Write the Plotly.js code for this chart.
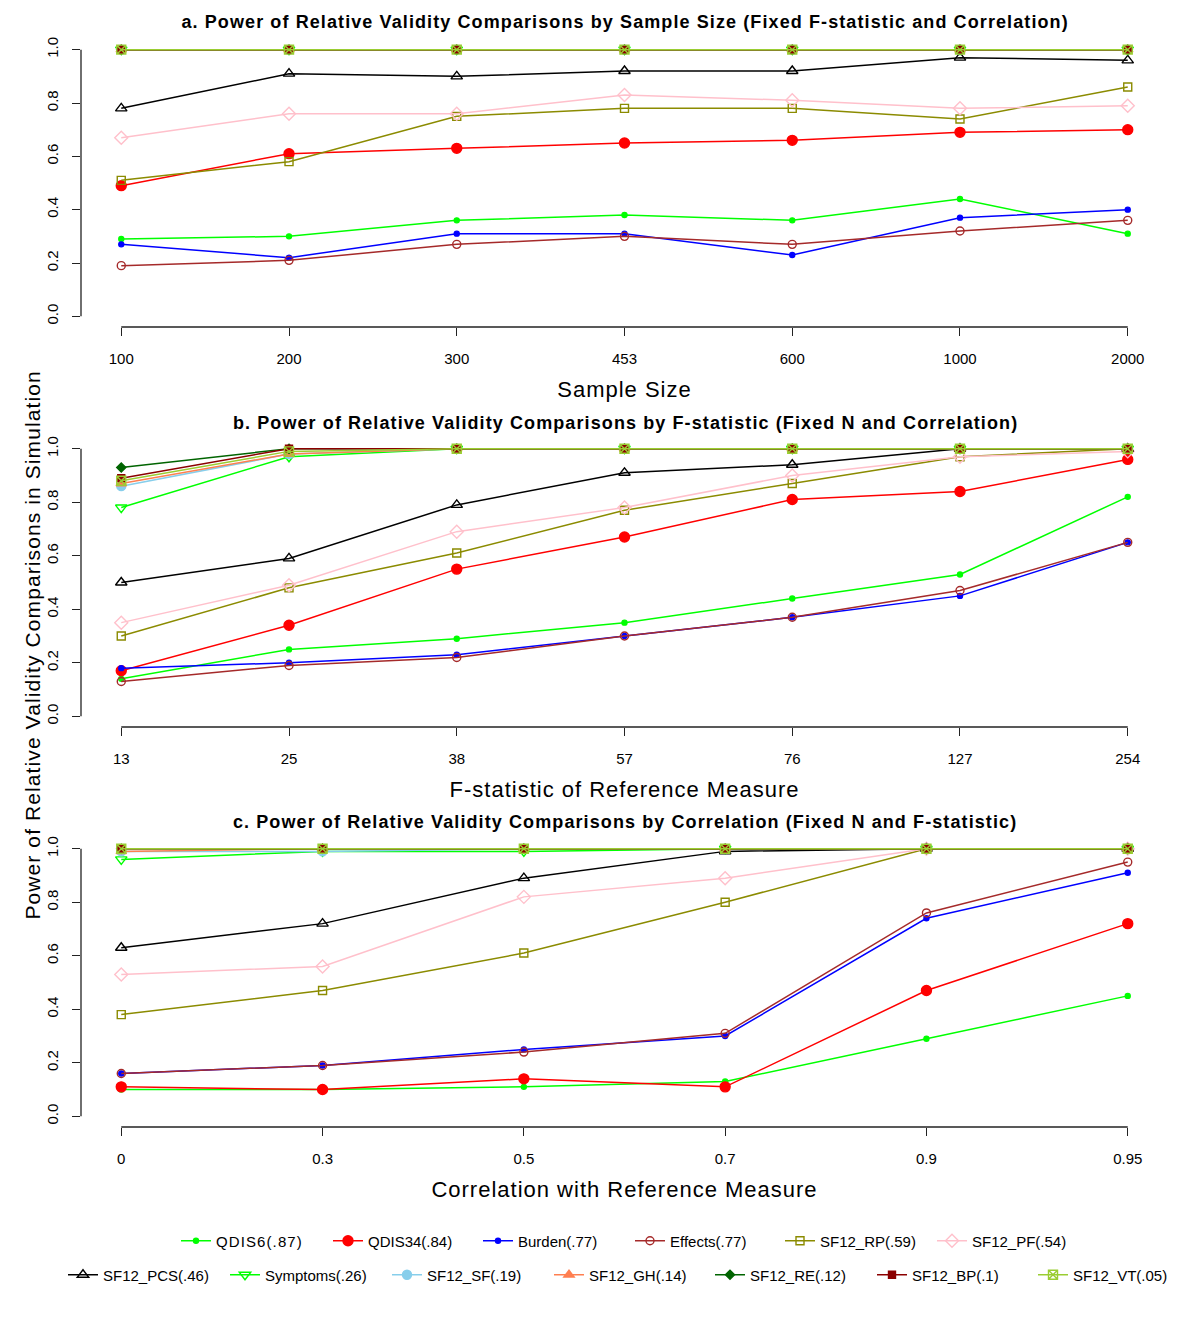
<!DOCTYPE html>
<html>
<head>
<meta charset="utf-8">
<title>Power of Relative Validity Comparisons</title>
<script src="https://cdn.plot.ly/plotly-3.0.1.min.js"></script>
<style>
    html, body { margin: 0; padding: 0; background: #ffffff; }
    #chart { width: 1200px; height: 1326px; }
    /* the original (R output) sets its text with looser letter spacing */
    #chart text.legendtext { letter-spacing: 1.1px; }
    #chart text.xtitle, #chart text.x2title, #chart text.x3title { letter-spacing: 1px; }
    #chart text.annotation-text { letter-spacing: 1.1px; }
    /* wider legend text would otherwise get cut by the legend clip box */
    #chart g.scrollbox { clip-path: none !important; }
</style>
</head>
<body>
<div id="chart"></div>
<script>
// Categories on each panel's x axis
const sampleSizes = ['100', '200', '300', '453', '600', '1000', '2000'];
const fStats = ['13', '25', '38', '57', '76', '127', '254'];
const correlations = ['0', '0.3', '0.5', '0.7', '0.9', '0.95'];

// Measure names as shown in the legend
const measures = ['QDIS6(.87)', 'QDIS34(.84)', 'Burden(.77)', 'Effects(.77)', 'SF12_RP(.59)', 'SF12_PF(.54)',
    'SF12_PCS(.46)', 'Symptoms(.26)', 'SF12_SF(.19)', 'SF12_GH(.14)', 'SF12_RE(.12)', 'SF12_BP(.1)', 'SF12_VT(.05)'];

// a. power by sample size
const sizeQDIS6 = [0.29, 0.30, 0.36, 0.38, 0.36, 0.44, 0.31];
const sizeQDIS34 = [0.49, 0.61, 0.63, 0.65, 0.66, 0.69, 0.70];
const sizeBurden = [0.27, 0.22, 0.31, 0.31, 0.23, 0.37, 0.40];
const sizeEffects = [0.19, 0.21, 0.27, 0.30, 0.27, 0.32, 0.36];
const sizeRP = [0.51, 0.58, 0.75, 0.78, 0.78, 0.74, 0.86];
const sizePF = [0.67, 0.76, 0.76, 0.83, 0.81, 0.78, 0.79];
const sizePCS = [0.78, 0.91, 0.90, 0.92, 0.92, 0.97, 0.96];
const sizeSymptoms = [1, 1, 1, 1, 1, 1, 1];
const sizeSF = [1, 1, 1, 1, 1, 1, 1];
const sizeGH = [1, 1, 1, 1, 1, 1, 1];
const sizeRE = [1, 1, 1, 1, 1, 1, 1];
const sizeBP = [1, 1, 1, 1, 1, 1, 1];
const sizeVT = [1, 1, 1, 1, 1, 1, 1];

// b. power by F-statistic
const fQDIS6 = [0.14, 0.25, 0.29, 0.35, 0.44, 0.53, 0.82];
const fQDIS34 = [0.17, 0.34, 0.55, 0.67, 0.81, 0.84, 0.96];
const fBurden = [0.18, 0.20, 0.23, 0.30, 0.37, 0.45, 0.65];
const fEffects = [0.13, 0.19, 0.22, 0.30, 0.37, 0.47, 0.65];
const fRP = [0.30, 0.48, 0.61, 0.77, 0.87, 0.97, 1.00];
const fPF = [0.35, 0.49, 0.69, 0.78, 0.90, 0.97, 0.99];
const fPCS = [0.50, 0.59, 0.79, 0.91, 0.94, 1.00, 1.00];
const fSymptoms = [0.78, 0.97, 1, 1, 1, 1, 1];
const fSF = [0.86, 0.98, 1, 1, 1, 1, 1];
const fGH = [0.87, 0.98, 1, 1, 1, 1, 1];
const fRE = [0.93, 1, 1, 1, 1, 1, 1];
const fBP = [0.89, 1, 1, 1, 1, 1, 1];
const fVT = [0.88, 0.99, 1, 1, 1, 1, 1];

// c. power by correlation
const corrQDIS6 = [0.10, 0.10, 0.11, 0.13, 0.29, 0.45];
const corrQDIS34 = [0.11, 0.10, 0.14, 0.11, 0.47, 0.72];
const corrBurden = [0.16, 0.19, 0.25, 0.30, 0.74, 0.91];
const corrEffects = [0.16, 0.19, 0.24, 0.31, 0.76, 0.95];
const corrRP = [0.38, 0.47, 0.61, 0.80, 1, 1];
const corrPF = [0.53, 0.56, 0.82, 0.89, 1, 1];
const corrPCS = [0.63, 0.72, 0.89, 0.99, 1, 1];
const corrSymptoms = [0.96, 0.99, 0.99, 1, 1, 1];
const corrSF = [0.99, 0.99, 1, 1, 1, 1];
const corrGH = [0.99, 1, 1, 1, 1, 1];
const corrRE = [1, 1, 1, 1, 1, 1];
const corrBP = [1, 1, 1, 1, 1, 1];
const corrVT = [1, 1, 1, 1, 1, 1];

// line colour + R-ish plotting symbol per measure
const styles = [
    { color: '#00ff00', symbol: 'circle', size: 5 },
    { color: '#ff0000', symbol: 'circle', size: 10 },
    { color: '#0000ff', symbol: 'circle', size: 5 },
    { color: '#a52a2a', symbol: 'circle-open', size: 8 },
    { color: '#8b8b00', symbol: 'square-open', size: 8 },
    { color: '#ffc0cb', symbol: 'diamond-open', size: 10 },
    { color: '#000000', symbol: 'triangle-up-open', size: 10 },
    { color: '#00ff00', symbol: 'triangle-down-open', size: 10 },
    { color: '#87ceeb', symbol: 'circle', size: 9 },
    { color: '#ff7f50', symbol: 'triangle-up', size: 9 },
    { color: '#006400', symbol: 'diamond', size: 7 },
    { color: '#8b0000', symbol: 'square', size: 7 },
    { color: '#9acd32', symbol: 'square-x-open', size: 9 }
];

const panels = [
    {
        cats: sampleSizes,
        series: [sizeQDIS6, sizeQDIS34, sizeBurden, sizeEffects, sizeRP, sizePF, sizePCS,
            sizeSymptoms, sizeSF, sizeGH, sizeRE, sizeBP, sizeVT],
        title: 'a. Power of Relative Validity Comparisons by Sample Size (Fixed F-statistic and Correlation)',
        xtitle: 'Sample Size'
    },
    {
        cats: fStats,
        series: [fQDIS6, fQDIS34, fBurden, fEffects, fRP, fPF, fPCS,
            fSymptoms, fSF, fGH, fRE, fBP, fVT],
        title: 'b. Power of Relative Validity Comparisons by F-statistic (Fixed N and Correlation)',
        xtitle: 'F-statistic of Reference Measure'
    },
    {
        cats: correlations,
        series: [corrQDIS6, corrQDIS34, corrBurden, corrEffects, corrRP, corrPF, corrPCS,
            corrSymptoms, corrSF, corrGH, corrRE, corrBP, corrVT],
        title: 'c. Power of Relative Validity Comparisons by Correlation (Fixed N and F-statistic)',
        xtitle: 'Correlation with Reference Measure'
    }
];

const FONT = '"Liberation Sans", Arial, Helvetica, sans-serif';
const W = 1200, H = 1326;
// pixel boxes of the three plot regions (top, bottom)
const boxes = [[39, 327], [438, 727], [838, 1127]];
const titleRows = [22, 423, 822];
const plotLeft = 81, plotRight = 1168;

// legend layout: where each entry's text starts, and its row
const legendTextLeft = [216, 368, 518, 670, 820, 972, 103, 265, 427, 589, 750, 912, 1073];
const legendRowY = [1241, 1241, 1241, 1241, 1241, 1241, 1275, 1275, 1275, 1275, 1275, 1275, 1275];

const traces = [];
const layout = {
    width: W,
    height: H,
    margin: { l: 0, r: 0, t: 0, b: 0 },
    paper_bgcolor: '#ffffff',
    plot_bgcolor: '#ffffff',
    font: { family: FONT, color: '#000000', size: 15 },
    shapes: [],
    annotations: []
};

// one small legend per entry so the two rows can be spaced like the original
const legendId = j => (j === 0 ? 'legend' : 'legend' + (j + 1));

panels.forEach((p, k) => {
    const sfx = k === 0 ? '' : String(k + 1);
    const xs = p.cats.map((_, i) => i);
    const n = p.cats.length - 1;

    p.series.forEach((vals, j) => {
        const st = styles[j];
        traces.push({
            x: xs,
            y: vals,
            xaxis: 'x' + sfx,
            yaxis: 'y' + sfx,
            type: 'scatter',
            mode: 'lines+markers',
            name: measures[j],
            legendgroup: measures[j],
            legend: legendId(j),
            showlegend: k === 0,
            line: { color: st.color, width: 1.5 },
            marker: { color: st.color, symbol: st.symbol, size: st.size, line: { color: st.color, width: 1.4 } },
            cliponaxis: false
        });
    });

    const [top, bottom] = boxes[k];
    layout['xaxis' + sfx] = {
        domain: [plotLeft / W, plotRight / W],
        anchor: 'y' + sfx,
        range: [-0.04 * n, n * 1.04],
        tickvals: xs,
        ticktext: p.cats,
        ticks: 'outside',
        ticklen: 8,
        tickwidth: 1.3,
        tickcolor: '#222',
        ticklabelstandoff: 10,
        showline: false,
        showgrid: false,
        zeroline: false,
        tickfont: { size: 15 },
        title: { text: p.xtitle, font: { size: 22 }, standoff: 15 }
    };
    layout['yaxis' + sfx] = {
        domain: [1 - bottom / H, 1 - top / H],
        anchor: 'x' + sfx,
        range: [-0.04, 1.04],
        tickvals: [0, 0.2, 0.4, 0.6, 0.8, 1.0],
        tickformat: '.1f',
        tickangle: -90,
        ticks: 'outside',
        ticklen: 8,
        tickwidth: 1.3,
        tickcolor: '#222',
        ticklabelstandoff: 8,
        showline: false,
        showgrid: false,
        zeroline: false,
        tickfont: { size: 15 }
    };

    // R-style axis lines that only span first..last tick
    layout.shapes.push({
        type: 'line', xref: 'x' + sfx, yref: 'y' + sfx + ' domain',
        x0: 0, x1: n, y0: 0, y1: 0,
        line: { color: '#222', width: 1.3 }
    });
    layout.shapes.push({
        type: 'line', xref: 'x' + sfx + ' domain', yref: 'y' + sfx,
        x0: 0, x1: 0, y0: 0, y1: 1,
        line: { color: '#222', width: 1.3 }
    });

    // panel title
    layout.annotations.push({
        text: '<b>' + p.title + '</b>',
        xref: 'paper', yref: 'paper',
        x: 625 / W, y: 1 - titleRows[k] / H,
        xanchor: 'center', yanchor: 'middle',
        showarrow: false,
        font: { size: 18 }
    });
});

// shared y axis title
layout.annotations.push({
    text: 'Power of Relative Validity Comparisons in Simulation',
    xref: 'paper', yref: 'paper',
    x: 32 / W, y: 1 - 645 / H,
    xanchor: 'center', yanchor: 'middle',
    textangle: -90,
    showarrow: false,
    font: { size: 21 }
});

measures.forEach((m, j) => {
    layout[legendId(j)] = {
        orientation: 'h',
        x: (legendTextLeft[j] - 40) / W,
        y: 1 - legendRowY[j] / H,
        xanchor: 'left', yanchor: 'middle',
        font: { size: 15 },
        bgcolor: 'rgba(0,0,0,0)'
    };
});

Plotly.newPlot('chart', traces, layout, { displayModeBar: false, responsive: false });
</script>
</body>
</html>
